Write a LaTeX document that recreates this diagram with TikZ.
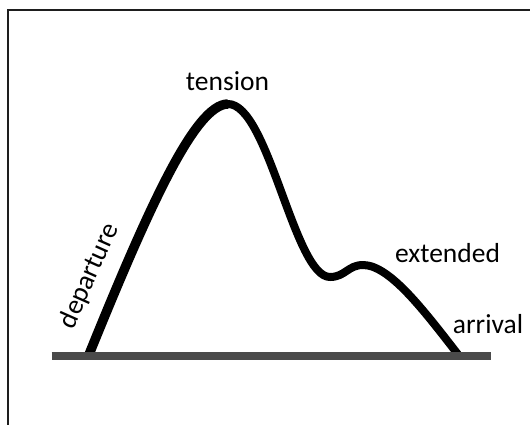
\documentclass[tikz,border=0pt]{standalone}
\usepackage{fontspec}
\setmainfont{Carlito}
\definecolor{bargray}{HTML}{4A4A4A}
\definecolor{framegray}{HTML}{1E1E1E}
\tikzset{
  lbl/.style={font=\fontsize{27.5}{33}\selectfont, inner sep=0pt, anchor=base, text=black},
  curvethick/.style={draw=black, line width=9.5pt, line cap=butt, line join=round},
  curvethin/.style={draw=black, line width=8pt, line cap=butt, line join=round},
  groundbar/.style={draw=bargray, line width=8pt, line cap=butt},
  framebox/.style={draw=framegray, line width=2pt}
}
\begin{document}
\begin{tikzpicture}[x=1pt,y=-1pt]
\useasboundingbox (0,0) rectangle (530,424);
% frame (cropped at right and bottom)
\draw[framebox] (8,9.5) rectangle (536,430);
% curve
\coordinate (foot) at (88,357);
\coordinate (peak) at (228,104);
\coordinate (trough) at (330,277);
\coordinate (hump) at (363,265);
\coordinate (end) at (460,357);
\draw[curvethin] (foot) .. controls (148,209) and (195,104) .. (peak)
  .. controls (268.5,104) and (294.3,277) .. (trough)
  .. controls (345,277) and (348,265) .. (hump)
  .. controls (390,265) and (425,312) .. (end);
\draw[curvethick] (foot) .. controls (148,209) and (195,104) .. (peak);
% ground
\coordinate (g1) at (51.7,356);
\coordinate (g2) at (491,356);
\draw[groundbar] (g1) -- (g2);
% labels
\node[lbl] (tension) at (227.5,90) {tension};
\node[lbl] (extended) at (447.5,262) {extended};
\node[lbl] (arrival) at (488,333.5) {arrival};
\node[lbl, rotate=66] (departure) at (96,279) {departure};
\end{tikzpicture}
\end{document}
